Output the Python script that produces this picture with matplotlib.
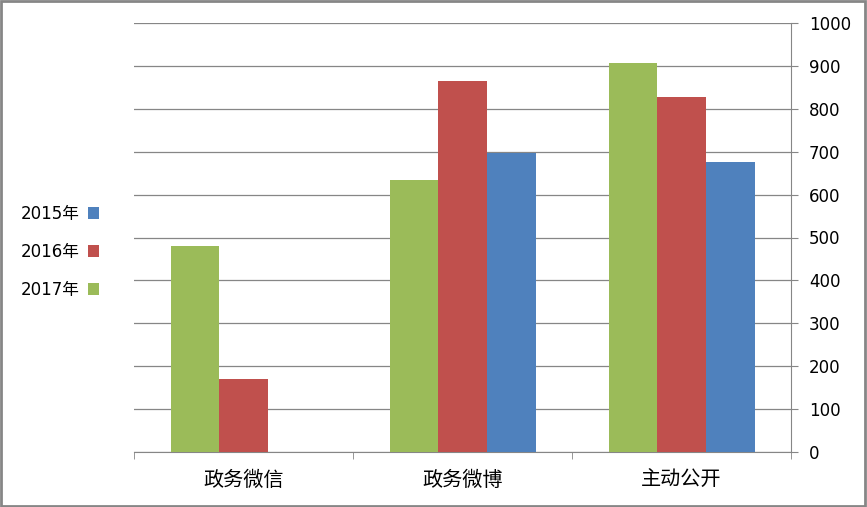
import numpy as np
import matplotlib
matplotlib.use('Agg')
import matplotlib.pyplot as plt
from matplotlib.patches import Rectangle

plt.rcParams['font.family'] = ['DejaVu Sans', 'Noto Sans CJK SC']

# categories as laid out left to right (reference is mirrored)
categories = ['政务微信', '政务微博', '主动公开']
series = ['2017年', '2016年', '2015年']
vals_2017 = [480, 634, 907]
vals_2016 = [170, 865, 828]
vals_2015 = [0, 697, 676]
colors = ['#9BBB59', '#C0504D', '#4F81BD']
y_ticks = list(range(0, 1001, 100))

fig = plt.figure(figsize=(8.67, 5.07), dpi=100)
ax = fig.add_axes([134/867, 1 - 452/507, (791 - 134)/867, (452 - 23)/507])

x = np.arange(len(categories))
w = 1 / 4.5
data = [vals_2017, vals_2016, vals_2015]
handles = []
for i, (vals, c, lab) in enumerate(zip(data, colors, series)):
    b = ax.bar(x + (i - 1) * w, vals, width=w, color=c, label=lab, zorder=3)
    handles.append(b)

ax.set_xlim(-0.5, len(categories) - 0.5)
ax.set_ylim(0, 1000)
ax.set_yticks(y_ticks)
ax.yaxis.tick_right()
ax.tick_params(axis='y', length=5, color='#868686', labelsize=12, pad=8)
ax.grid(axis='y', color='#868686', linewidth=0.9, zorder=0)

ax.set_xticks(x)
ax.set_xticklabels(categories, fontsize=14.5, family=['Noto Sans CJK SC'])
ax.set_xticks(np.arange(-0.5, len(categories)), minor=True)
ax.tick_params(axis='x', which='major', length=0, pad=13)
ax.tick_params(axis='x', which='minor', length=5, color='#868686')

for s in ['top', 'left']:
    ax.spines[s].set_visible(False)
for s in ['right', 'bottom']:
    ax.spines[s].set_color('#868686')

order = [2, 1, 0]
fig.legend([handles[i] for i in order], [series[i] for i in order],
           loc='center', bbox_to_anchor=(60/867, 1 - 252/507), frameon=False,
           markerfirst=False, fontsize=12, handlelength=0.7, handleheight=0.7,
           labelspacing=1.2, handletextpad=0.5)

fig.patches.append(Rectangle((0.001, 0.002), 0.997, 0.996, transform=fig.transFigure,
                             fill=False, edgecolor='#868686', linewidth=2))

fig.savefig('out.png', dpi=100)
